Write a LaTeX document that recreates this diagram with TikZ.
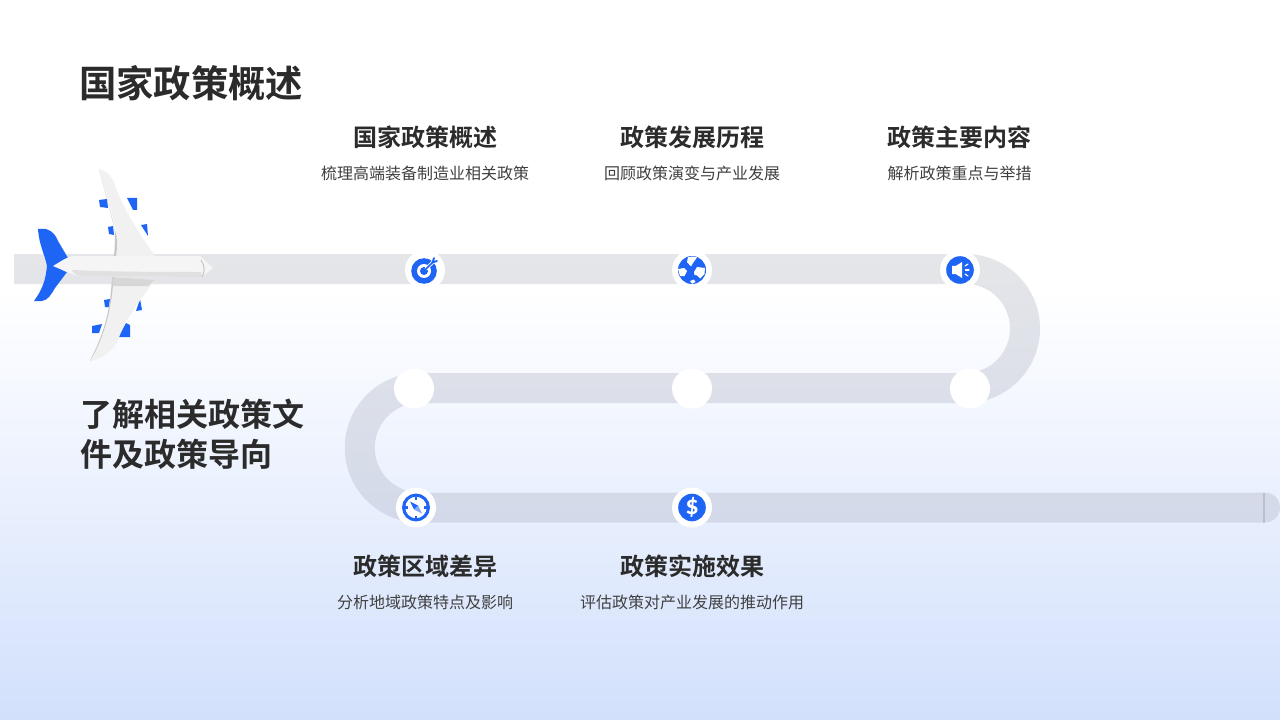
\documentclass[tikz,border=0pt]{standalone}
\usepackage{fontspec}
\setmainfont{Noto Sans CJK SC}[BoldFont={Noto Sans CJK SC Bold}]
\definecolor{ink}{RGB}{43,43,43}
\definecolor{subink}{RGB}{64,64,64}
\definecolor{brand}{RGB}{30,100,245}
\definecolor{bgend}{RGB}{210,224,252}
\definecolor{wingc}{RGB}{241,241,241}
\definecolor{bodyc}{RGB}{245,245,245}
\definecolor{bandtop}{RGB}{229,230,233}
\definecolor{bandend}{RGB}{211,217,233}
\tikzset{
 titletext/.style={font=\fontsize{28}{34}\selectfont\bfseries,text=ink,inner sep=0pt},
 sidetext/.style={font=\fontsize{24}{30}\selectfont\bfseries,text=ink,inner sep=0pt,align=left,anchor=west},
 headtext/.style={font=\fontsize{18}{22}\selectfont\bfseries,text=ink,inner sep=0pt},
 subtext/.style={font=\fontsize{12}{16}\selectfont,text=subink,inner sep=0pt},
 halo/.style={circle,fill=white,minimum size=30pt,inner sep=0pt},
 whiteline/.style={draw=white,line cap=round,line join=round},
 blueline/.style={draw=brand,line cap=round,line join=round}
}
\begin{document}
\begin{tikzpicture}[x=0.75pt,y=-0.75pt]
\useasboundingbox (0,0) rectangle (1280,720);
\fill[white] (0,0) rectangle (1280,291);
\shade[top color=white,bottom color=bgend] (0,290) rectangle (1280,720);
% track outline
\shade[top color=bandtop,bottom color=bandend] (14,254) -- (965.5,254)
  .. controls (1006.6,254) and (1040,287.4) .. (1040,328.5)
  .. controls (1040,369.6) and (1006.6,403) .. (965.5,403)
  -- (419.5,403)
  .. controls (394.8,403) and (374.75,423) .. (374.75,447.75)
  .. controls (374.75,472.5) and (394.8,492.5) .. (419.5,492.5)
  -- (1265,492.5)
  .. controls (1273.3,492.5) and (1280,499.2) .. (1280,507.5)
  .. controls (1280,515.8) and (1273.3,522.5) .. (1265,522.5)
  -- (419.5,522.5)
  .. controls (378.2,522.5) and (344.75,489) .. (344.75,447.75)
  .. controls (344.75,406.5) and (378.2,373) .. (419.5,373)
  -- (965.5,373)
  .. controls (990.1,373) and (1010,353.1) .. (1010,328.5)
  .. controls (1010,303.9) and (990.1,284) .. (965.5,284)
  -- (14,284) -- cycle;
\coordinate (capa) at (1264,492.5);
\coordinate (capb) at (1264,522.5);
\draw[black,draw opacity=0.12,line width=1.5pt] (capa) -- (capb);
% halos
\node[halo] (n1) at (425,270) {};
\node[halo] (n2) at (692,270) {};
\node[halo] (n3) at (960,270) {};
\node[halo] (m1) at (414,388.5) {};
\node[halo] (m2) at (692,388.5) {};
\node[halo] (m3) at (970,388.5) {};
\node[halo] (b1) at (416,507.5) {};
\node[halo] (b2) at (692,507.5) {};
% target icon
\begin{scope}[shift={(n1)}]
 \fill[brand] (-1,1) circle (12.8);
 \fill[white] (-1,1) circle (7);
 \fill[brand] (-1,1) circle (4);
 \draw[whiteline,line width=2.6pt] (1,-1) -- (9,-9);
 \draw[blueline,line width=1.2pt] (-1,1) -- (9,-9);
 \draw[blueline,line width=1.4pt] (7.5,-7.5) -- (9,-12);
 \draw[blueline,line width=1.4pt] (7.5,-7.5) -- (12,-9);
\end{scope}
% globe icon
\begin{scope}[shift={(n2)}]
 \fill[brand] (0,0) circle (14);
 \fill[white] (-4,-12.8) -- (1,-13.5) -- (5,-12.6) -- (1,-7) -- (-1,-3.5) -- (-5,-8) -- cycle;
 \fill[white] (-14,-1) -- (-8,-2) -- (-5,1) -- (-7.5,6) -- (-12,6) -- cycle;
 \fill[white] (2,2) -- (5,-3) -- (13,-2) -- (12.5,4) -- (8,8.5) -- (5,5.5) -- (2.5,5) -- cycle;
 \fill[white] (-2,11) -- (2,9.5) -- (3.5,12) -- (0,13.8) -- cycle;
\end{scope}
% speaker icon
\begin{scope}[shift={(n3)}]
 \fill[brand] (0,0) circle (13.8);
 \fill[white] (-8,-4.2) -- (-4,-4.2) -- (2,-8) -- (2,8) -- (-4,4.2) -- (-8,4.2) -- cycle;
 \draw[whiteline,line width=0.9pt] (5,-4) -- (8,-6);
 \draw[whiteline,line width=0.9pt] (5.5,0) -- (9,0);
 \draw[whiteline,line width=0.9pt] (5,4) -- (8,6);
\end{scope}
% compass icon
\begin{scope}[shift={(b1)}]
 \draw[brand,line width=2.3pt] (0,0) circle (12.4);
 \draw[brand,line width=1.6pt] (0,-11) -- (0,-8) (0,11) -- (0,8) (-11,0) -- (-8,0) (11,0) -- (8,0);
 \fill[brand] (-6,-6) -- (2,-2) -- (-2,2) -- cycle;
 \fill[brand!55] (6,6) -- (2,-2) -- (-2,2) -- cycle;
\end{scope}
% dollar icon
\begin{scope}[shift={(b2)}]
 \fill[brand] (0,0) circle (13.8);
 \node[inner sep=0pt,text=white,font=\fontsize{20}{20}\fontspec{Carlito}\bfseries] (dollar) at (0,0) {\$};
\end{scope}
% aeroplane
\fill[brand] (99,200) -- (107,199) -- (108,208) -- (100,207) -- cycle;
\fill[brand] (127,198) -- (137,198) -- (137,210) -- (133,210) -- cycle;
\fill[brand] (108,227) -- (113,226) -- (114,235) -- (109,234) -- cycle;
\fill[brand] (141,225) -- (147,224) -- (148,236) -- cycle;
\fill[brand] (104,300) -- (110,299) -- (109,307) -- (105,307) -- cycle;
\fill[brand] (140,299) -- (136,311) -- (142,310) -- cycle;
\fill[brand] (92,326) -- (102,324) -- (99,333) -- (92,333) -- cycle;
\fill[brand] (126,323) -- (118,337) -- (130,337) -- (130,325) -- cycle;
\fill[brand] (38,229) -- (46,229) .. controls (53,231) and (56,236) .. (58,241) -- (68,258) -- (53,266) -- (47,266) .. controls (45,255) and (39,245) .. (38,229) -- cycle;
\fill[brand] (53,265) -- (67,272) -- (55,288) .. controls (51,295) and (48,300) .. (42,301) -- (34,301) .. controls (42,290) and (46,280) .. (47,265) -- cycle;
\fill[wingc] (99,169) .. controls (107,171) and (112,176) .. (116,188) .. controls (124,210) and (140,235) .. (155,256) -- (114,256) .. controls (117,245) and (117,235) .. (115,225) -- cycle;
\fill[black!22] (99,169) -- (116.5,236) .. controls (117.5,243) and (117,250) .. (116,256) -- (114,256) .. controls (115,245) and (115.5,235) .. (114,225) -- cycle;
\fill[wingc] (113,277) -- (155,280) .. controls (140,300) and (125,320) .. (118,340) .. controls (113,350) and (105,358) .. (90,361) .. controls (100,340) and (110,320) .. (113,277) -- cycle;
\fill[black!22] (90,361) .. controls (100,340) and (110,320) .. (112,277) -- (113.5,277) .. controls (112,310) and (103,340) .. cycle;
\fill[black!18,opacity=0.8] (112,277) -- (155,280) -- (148,286) -- (112,286) -- cycle;
\fill[bodyc] (53,266) .. controls (60,262) and (65,258) .. (72,256) -- (200,256) -- (213,268) -- (202,277) -- (80,276) .. controls (72,275) and (65,271) .. cycle;
\fill[black!12] (72,270) .. controls (120,272) and (160,272) .. (201,272) -- (202,277) -- (80,276) .. controls (76,275) and (73,273) .. cycle;
\draw[black!22,line width=0.8pt] (201,260) .. controls (205,266) and (205,272) .. (202,277);
% texts
\node[titletext] (title) at (191,83) {国家政策概述};
\node[sidetext] (side) at (80,434.5) {了解相关政策文\\件及政策导向};
\node[headtext] (h1) at (425,137) {国家政策概述};
\node[subtext] (s1) at (425,173) {梳理高端装备制造业相关政策};
\node[headtext] (h2) at (692,137) {政策发展历程};
\node[subtext] (s2) at (692,173) {回顾政策演变与产业发展};
\node[headtext] (h3) at (959.5,137) {政策主要内容};
\node[subtext] (s3) at (959.5,173) {解析政策重点与举措};
\node[headtext] (h4) at (425,566) {政策区域差异};
\node[subtext] (s4) at (425,602) {分析地域政策特点及影响};
\node[headtext] (h5) at (692,566) {政策实施效果};
\node[subtext] (s5) at (692,602) {评估政策对产业发展的推动作用};
\end{tikzpicture}
\end{document}
